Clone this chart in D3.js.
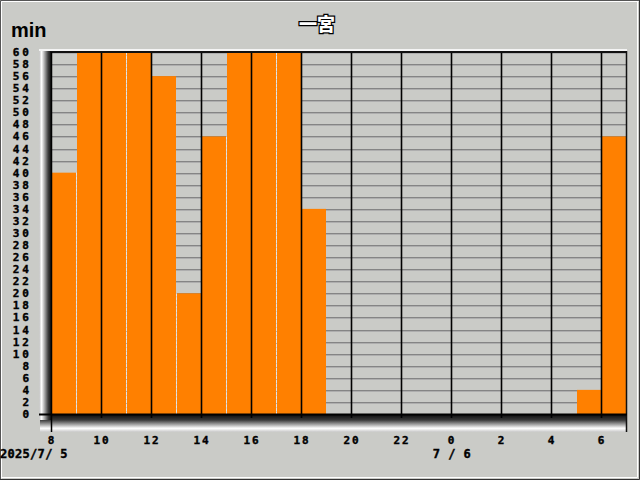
<!DOCTYPE html>
<html><head><meta charset="utf-8">
<script src="https://cdn.jsdelivr.net/npm/d3@7"></script>
<style>html,body{margin:0;padding:0;background:#cacbc7;}svg{display:block;}</style>
</head><body>
<script>
// Data
const hours = [8,9,10,11,12,13,14,15,16,17,18,19,20,21,22,23,0,1,2,3,4,5,6];
const minutes = [40,60,60,60,56,20,46,60,60,60,34,0,0,0,0,0,0,0,0,0,0,4,46];
const xTickLabels = ["8","10","12","14","16","18","20","22","0","2","4","6"];
const yTicks = d3.range(0, 61, 2);
const title = "一宮";
const yUnit = "min";
const dateLabels = ["2025/7/ 5", "7 / 6"];

const W = 640, H = 480;
const bg = "#cacbc7";
const svg = d3.select("body").append("svg").attr("width", W).attr("height", H);

// window frame
svg.append("rect").attr("x",0).attr("y",0).attr("width",W).attr("height",H).attr("fill",bg);
svg.append("path").attr("d",`M0.5,${H-0.5}V0.5H${W-0.5}`).attr("stroke","#555").attr("fill","none");
svg.append("path").attr("d",`M1.5,${H-1.5}V1.5H${W-1.5}`).attr("stroke","#fff").attr("fill","none");
svg.append("path").attr("d",`M${W-0.5},0V${H-0.5}H0`).attr("stroke","#333").attr("fill","none");
svg.append("path").attr("d",`M${W-2.5},2V${H-2.5}H2`).attr("stroke","#fff").attr("fill","none");

const x = d3.scaleLinear().domain([0, hours.length]).range([51, 626]);
const y = d3.scaleLinear().domain([0, 60]).range([414, 52]);

const defs = svg.append("defs");
const gw = defs.append("linearGradient").attr("id","wall").attr("x1",0).attr("x2",1).attr("y1",0).attr("y2",0);
[[0,"#c0c0c0"],[0.2,"#ffffff"],[0.45,"#a0a0a0"],[0.7,"#404040"],[1,"#000000"]].forEach(s=>gw.append("stop").attr("offset",s[0]).attr("stop-color",s[1]));
const gf = defs.append("linearGradient").attr("id","floor").attr("x1",0).attr("x2",0).attr("y1",0).attr("y2",1);
[[0,"#111111"],[0.3,"#3a3a3a"],[0.55,"#a0a0a0"],[0.78,"#ffffff"],[1,"#c8c8c8"]].forEach(s=>gf.append("stop").attr("offset",s[0]).attr("stop-color",s[1]));

// floor and wall
svg.append("rect").attr("x",40).attr("y",415).attr("width",587).attr("height",17).attr("fill","url(#floor)");
svg.append("rect").attr("x",39).attr("y",50).attr("width",13).attr("height",370).attr("fill","url(#wall)");
svg.append("rect").attr("x",39).attr("y",49).attr("width",588).attr("height",2).attr("fill","#f4f4f4");

// horizontal gridlines
const gh = svg.append("g");
gh.selectAll("line.a").data(yTicks.filter(d=>d>0)).join("line").attr("class","a")
  .attr("x1",52).attr("x2",626).attr("y1",d=>Math.round(y(d))+0.5).attr("y2",d=>Math.round(y(d))+0.5)
  .attr("stroke","#858585");
gh.selectAll("line.b").data(yTicks.filter(d=>d>0)).join("line").attr("class","b")
  .attr("x1",52).attr("x2",626).attr("y1",d=>Math.round(y(d))+1.5).attr("y2",d=>Math.round(y(d))+1.5)
  .attr("stroke","#aeaeae");

// bars
svg.append("g").selectAll("rect").data(minutes).join("rect")
  .attr("x",(d,i)=>x(i)+1).attr("width",(d,i)=>x(i+1)-x(i)-1)
  .attr("y",d=>y(d)).attr("height",d=>y(0)-y(d))
  .attr("fill","#ff8000");
// light separators at odd-position bars
svg.append("g").selectAll("line").data(minutes.map((d,i)=>({d,i})).filter(o=>o.i%2===1 && o.d>0)).join("line")
  .attr("x1",o=>x(o.i)+0.5).attr("x2",o=>x(o.i)+0.5)
  .attr("y1",o=>y(Math.min(o.d, minutes[o.i-1]))).attr("y2",414)
  .attr("stroke","#e4e4e4").attr("stroke-dasharray","3,1");

// vertical black gridlines every 2 hours
const evenIdx = d3.range(2, hours.length, 2);
svg.append("g").selectAll("line").data(evenIdx).join("line")
  .attr("x1",i=>x(i)+0.5).attr("x2",i=>x(i)+0.5).attr("y1",52).attr("y2",418)
  .attr("stroke","#000").attr("stroke-width",1.6);

// top and right border
svg.append("line").attr("x1",50).attr("x2",627).attr("y1",52).attr("y2",52).attr("stroke","#111").attr("stroke-width",2);
svg.append("line").attr("x1",626.5).attr("x2",626.5).attr("y1",51).attr("y2",432).attr("stroke","#111").attr("stroke-width",1.5);
// axis line
svg.append("line").attr("x1",39).attr("x2",627).attr("y1",414.5).attr("y2",414.5).attr("stroke","#000").attr("stroke-width",2);
svg.append("line").attr("x1",51.5).attr("x2",51.5).attr("y1",52).attr("y2",432).attr("stroke","#000").attr("stroke-width",1.5);

// y labels
const lab = svg.append("g").attr("font-family","DejaVu Sans Mono, monospace").attr("font-weight","bold")
  .attr("fill","#000").attr("stroke","#000").attr("stroke-width",0.4);
lab.selectAll("text.y").data(yTicks).join("text").attr("class","y")
  .attr("x",32).attr("y",d=>y(d)+4).attr("text-anchor","end")
  .attr("font-size",11).attr("letter-spacing",3).text(d=>String(d));

// x labels
const xLabelIdx = d3.range(0, hours.length, 2);
lab.selectAll("text.x").data(xLabelIdx).join("text").attr("class","x")
  .attr("x",i=>x(i)+1).attr("y",444).attr("text-anchor","middle")
  .attr("font-size",11).attr("letter-spacing",2).text((i,k)=>xTickLabels[k]);

lab.append("text").attr("x",0).attr("y",458).attr("font-size",12).attr("letter-spacing",0.3).text(dateLabels[0]);
lab.append("text").attr("x",x(hours.indexOf(0))+1).attr("y",458).attr("text-anchor","middle").attr("font-size",12).attr("letter-spacing",0.5).attr("xml:space","preserve").text(dateLabels[1]);

// unit
svg.append("text").attr("x",11).attr("y",37).attr("font-family","Liberation Sans, Arial, sans-serif")
  .attr("font-weight","bold").attr("font-size",20).attr("fill","#000").text(yUnit);
// title
svg.append("text").attr("x",317).attr("y",31).attr("text-anchor","middle")
  .attr("font-family","Noto Sans CJK JP, sans-serif").attr("font-weight","900").attr("font-size",18)
  .attr("fill","#fff").attr("stroke","#000").attr("stroke-width",2.5).attr("paint-order","stroke").text(title);
</script>
</body></html>
